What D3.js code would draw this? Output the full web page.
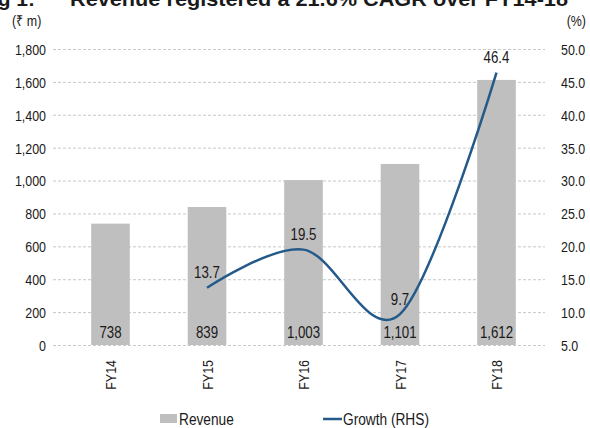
<!DOCTYPE html>
<html>
<head>
<meta charset="utf-8">
<script src="https://cdn.jsdelivr.net/npm/d3@7"></script>
<style>
    body { margin: 0; background: #fff; }
    svg text { font-family: "Liberation Sans", Arial, sans-serif; fill: #1a1a1a; }
</style>
</head>
<body>
<svg id="chart" width="590" height="428"></svg>
<script>
let years = ["FY14", "FY15", "FY16", "FY17", "FY18"]
let revenue = [738, 839, 1003, 1101, 1612]
let growthYears = ["FY15", "FY16", "FY17", "FY18"]
let growth = [13.7, 19.5, 9.7, 46.4]
let leftTicks = [0, 200, 400, 600, 800, 1000, 1200, 1400, 1600, 1800]
let rightTicks = [5, 10, 15, 20, 25, 30, 35, 40, 45, 50]

const svg = d3.select("#chart")
const sq = 0.83 // squeeze, the source uses a narrow face

const plotTop = 49, plotBottom = 345
const x = d3.scaleBand().domain(years).range([62.25, 544.75]).paddingInner(0.6).paddingOuter(0.3)
const yL = d3.scaleLinear().domain([0, 1800]).range([plotBottom, plotTop])
const yR = d3.scaleLinear().domain([5, 50]).range([plotBottom, plotTop])

function putText(g, px, py, txt, size, anchor) {
    return g.append("text")
        .attr("transform", "translate(" + px + "," + py + ") scale(" + sq + ",1)")
        .attr("text-anchor", anchor || "start")
        .style("font-size", size + "px")
        .text(txt)
}

// title (clipped at top like the source)
svg.append("text").attr("x", 35).attr("y", 6).attr("text-anchor", "end")
    .style("font-weight", "bold").style("font-size", "21px").text("Fig 1:")
svg.append("text").attr("x", 70).attr("y", 6)
    .attr("textLength", 498).attr("lengthAdjust", "spacingAndGlyphs")
    .style("font-weight", "bold").style("font-size", "21px")
    .text("Revenue registered a 21.6% CAGR over FY14-18")

// units
putText(svg, 12, 26, "(₹ m)", 15)
putText(svg, 586, 26, "(%)", 15, "end")

// grid
svg.append("g").selectAll("line").data(leftTicks).join("line")
    .attr("x1", 53).attr("x2", 545)
    .attr("y1", d => yL(d) + 0.5).attr("y2", d => yL(d) + 0.5)
    .attr("stroke", "#c8c8c8").attr("stroke-width", 1).attr("stroke-dasharray", "3,2")

// axes
const gl = svg.append("g").attr("transform", "translate(46,0)")
    .call(d3.axisLeft(yL).tickValues(leftTicks).tickSize(0).tickPadding(0).tickFormat(d3.format(",")))
gl.select(".domain").remove()
gl.selectAll("text").attr("font-family", null).attr("font-size", null)
    .style("font-size", "15px").attr("dy", "0.36em").attr("transform", "scale(" + sq + ",1)")

const gr = svg.append("g").attr("transform", "translate(561,0)")
    .call(d3.axisRight(yR).tickValues(rightTicks).tickSize(0).tickPadding(0).tickFormat(d3.format(".1f")))
gr.select(".domain").remove()
gr.selectAll("text").attr("font-family", null).attr("font-size", null)
    .style("font-size", "15px").attr("dy", "0.36em").attr("transform", "scale(" + sq + ",1)")

// bars
svg.append("g").selectAll("rect").data(revenue).join("rect")
    .attr("x", (d, i) => x(years[i]))
    .attr("y", d => yL(d))
    .attr("width", x.bandwidth())
    .attr("height", d => yL(0) - yL(d))
    .attr("fill", "#bfbfbf")

const bl = svg.append("g")
revenue.forEach((d, i) => {
    putText(bl, x(years[i]) + x.bandwidth() / 2, plotBottom - 7, d3.format(",")(d), 16, "middle")
})

// category labels
svg.append("g").selectAll("text").data(years).join("text")
    .attr("transform", d => "translate(" + (x(d) + x.bandwidth() / 2 + 5.5) + ",360) rotate(-90) scale(" + sq + ",1)")
    .attr("text-anchor", "end")
    .style("font-size", "15px")
    .text(d => d)

// growth line
const line = d3.line()
    .x((d, i) => x(growthYears[i]) + x.bandwidth() / 2)
    .y(d => yR(d))
    .curve(d3.curveCatmullRom.alpha(0))

svg.append("path").datum(growth)
    .attr("d", line)
    .attr("fill", "none")
    .attr("stroke", "#245a8a")
    .attr("stroke-width", 2.5)

const gLab = svg.append("g")
growth.forEach((d, i) => {
    putText(gLab, x(growthYears[i]) + x.bandwidth() / 2, yR(d) - 9.5, d3.format(".1f")(d), 16, "middle")
})

// legend
const lg = svg.append("g")
lg.append("rect").attr("x", 160).attr("y", 414).attr("width", 17).attr("height", 9).attr("fill", "#bfbfbf")
putText(lg, 179, 425, "Revenue", 16.5)
lg.append("line").attr("x1", 323).attr("x2", 342).attr("y1", 419).attr("y2", 419)
    .attr("stroke", "#245a8a").attr("stroke-width", 2.5)
putText(lg, 343, 425, "Growth (RHS)", 16.5)
</script>
</body>
</html>
